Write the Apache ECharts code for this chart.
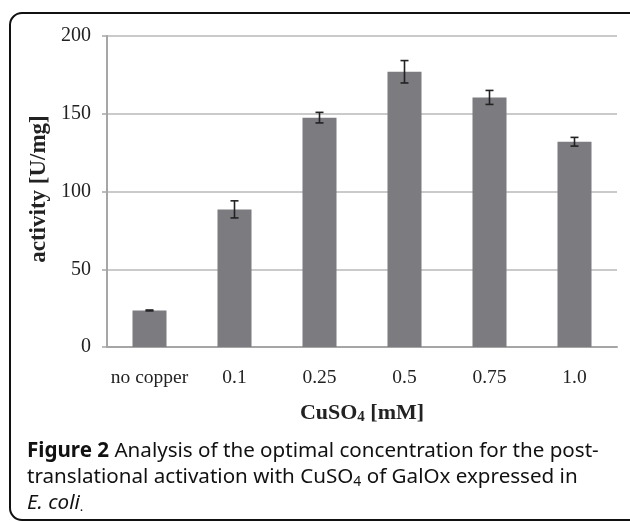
<!DOCTYPE html>
<html>
<head>
<meta charset="utf-8">
<script src="https://cdn.jsdelivr.net/npm/echarts@6/dist/echarts.min.js"></script>
<style>
    html, body { margin: 0; padding: 0; background: #fff; }
    #chart { width: 630px; height: 522px; }
</style>
</head>
<body>
<div id="chart"></div>
<script>
// values
const categories = ["no copper", "0.1", "0.25", "0.5", "0.75", "1.0"];
const activity = [23.5, 88.5, 147.5, 177, 160.5, 132];
const errors = [0.3, 5.5, 3.4, 7.2, 4.5, 2.8];
const yTicks = [0, 50, 100, 150, 200];

const serif = "'Liberation Serif', 'Times New Roman', serif";
const sans = "'Noto Sans', 'Open Sans', sans-serif";

const errorData = activity.map((v, i) => [i, v - errors[i], v + errors[i]]);

const chart = echarts.init(document.getElementById("chart"));

const renderError = (params, api) => {
    const lo = api.coord([api.value(0), api.value(1)]);
    const hi = api.coord([api.value(0), api.value(2)]);
    const cap = 4;
    const style = { stroke: "#222", lineWidth: 1.6 };
    return {
        type: "group",
        children: [
            { type: "line", shape: { x1: lo[0], y1: lo[1], x2: hi[0], y2: hi[1] }, style },
            { type: "line", shape: { x1: hi[0] - cap, y1: hi[1], x2: hi[0] + cap, y2: hi[1] }, style },
            { type: "line", shape: { x1: lo[0] - cap, y1: lo[1], x2: lo[0] + cap, y2: lo[1] }, style }
        ]
    };
};

chart.setOption({
    animation: false,
    grid: { left: 107, right: 13, top: 36, bottom: 175 },
    xAxis: {
        type: "category",
        data: categories,
        name: "CuSO{sub|4} [mM]",
        nameLocation: "middle",
        nameGap: 54,
        nameTextStyle: {
            fontFamily: serif, fontSize: 22, fontWeight: "bold", color: "#222",
            rich: {
                sub: { fontFamily: serif, fontSize: 15, fontWeight: "bold", color: "#222", verticalAlign: "bottom", padding: [9, 0, 0, 0] }
            }
        },
        axisLine: { lineStyle: { color: "#a6a6a6", width: 2 } },
        axisTick: { show: false },
        axisLabel: { fontFamily: serif, fontSize: 19.5, color: "#222", margin: 21, interval: 0 }
    },
    yAxis: {
        type: "value",
        min: yTicks[0],
        max: yTicks[yTicks.length - 1],
        interval: yTicks[1] - yTicks[0],
        name: "activity [U/mg]",
        nameLocation: "middle",
        nameGap: 54,
        nameTextStyle: { fontFamily: serif, fontSize: 23, fontWeight: "bold", color: "#222", padding: [0, 0, 0, 5] },
        axisLine: { show: true, lineStyle: { color: "#a6a6a6", width: 2 } },
        axisTick: { show: true, length: 5, lineStyle: { color: "#a6a6a6", width: 1.5 } },
        axisLabel: { fontFamily: serif, fontSize: 20, color: "#222", margin: 16 },
        splitLine: { lineStyle: { color: "#b8b8b8", width: 1.5 } }
    },
    series: [
        {
            type: "bar",
            data: activity,
            barWidth: "40%",
            itemStyle: { color: "#7b7b80" }
        },
        {
            type: "custom",
            data: errorData,
            renderItem: renderError,
            z: 5
        }
    ],
    graphic: [
        {
            type: "rect",
            shape: { x: 10, y: 13, width: 640, height: 507, r: 12 },
            style: { fill: "none", stroke: "#111", lineWidth: 2 },
            silent: true
        },
        {
            type: "text",
            left: 27, top: 441,
            style: {
                text: "{b|Figure 2} Analysis of the optimal concentration for the post-",
                fontFamily: sans, fontSize: 20.6, fill: "#111",
                rich: { b: { fontFamily: sans, fontSize: 20.6, fontWeight: "bold", fill: "#111" } }
            }
        },
        {
            type: "text",
            left: 27, top: 467,
            style: {
                text: "translational activation with CuSO{sub|4} of GalOx expressed in",
                fontFamily: sans, fontSize: 20.6, fill: "#111",
                rich: { sub: { fontFamily: sans, fontSize: 14, fill: "#111", verticalAlign: "bottom", padding: [9, 0, 0, 0] } }
            }
        },
        {
            type: "text",
            left: 27, top: 493,
            style: {
                text: "{i|E. coli}{s|.}",
                fontFamily: sans, fontSize: 20.6, fill: "#111",
                rich: {
                    i: { fontFamily: sans, fontSize: 20.6, fontStyle: "italic", fill: "#111" },
                    s: { fontFamily: sans, fontSize: 13, fill: "#111", verticalAlign: "bottom" }
                }
            }
        }
    ]
});
</script>
</body>
</html>
